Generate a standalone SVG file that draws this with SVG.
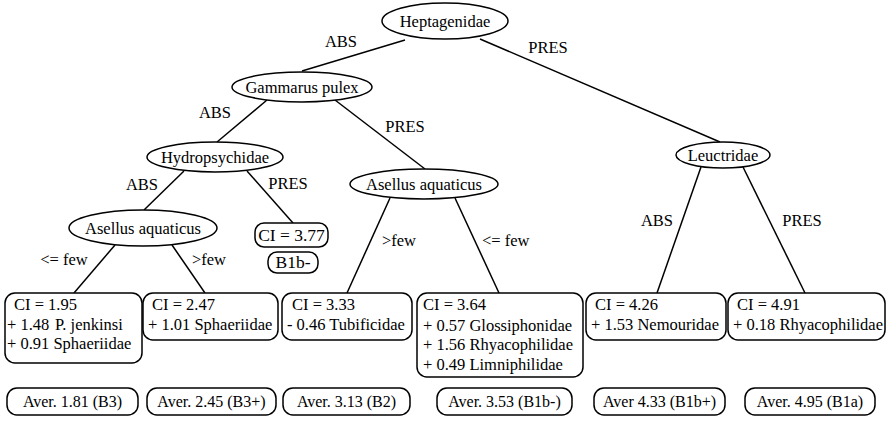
<svg xmlns="http://www.w3.org/2000/svg" width="887" height="422" viewBox="0 0 887 422" font-family="'Liberation Serif', 'Times New Roman', 'DejaVu Serif', serif">
<style>
text{font-family:'Liberation Serif','Times New Roman','DejaVu Serif',serif;font-size:16.5px;fill:#000}
.m{text-anchor:middle}
.s{font-size:16.5px}
.a{font-size:16px}
.b{font-size:17.5px}
.n{fill:#fff;stroke:#000;stroke-width:1.5}
line{stroke:#000;stroke-width:1.5}
</style>
<rect x="0" y="0" width="887" height="422" fill="#fff"/>
<g id="connectors">
<line x1="405" y1="40" x2="302" y2="71"/>
<line x1="480" y1="39" x2="720" y2="142"/>
<line x1="267" y1="100" x2="217" y2="142"/>
<line x1="335" y1="100" x2="425" y2="169"/>
<line x1="184" y1="171" x2="144" y2="210"/>
<line x1="247" y1="171" x2="293" y2="223"/>
<line x1="115" y1="245" x2="74" y2="293"/>
<line x1="172" y1="245" x2="205" y2="293"/>
<line x1="390" y1="198" x2="347" y2="293"/>
<line x1="455" y1="198" x2="499" y2="293"/>
<line x1="701" y1="167" x2="657" y2="293"/>
<line x1="743" y1="167" x2="805" y2="293"/>
<text x="341" y="47" class="m">ABS</text>
<text x="548" y="53" class="m">PRES</text>
<text x="215" y="118" class="m">ABS</text>
<text x="405" y="132" class="m">PRES</text>
<text x="142" y="190" class="m">ABS</text>
<text x="288" y="189" class="m">PRES</text>
<text x="64" y="265" class="m">&lt;= few</text>
<text x="192" y="265">&gt;few</text>
<text x="382" y="246">&gt;few</text>
<text x="482" y="246">&lt;= few</text>
<text x="657" y="226" class="m">ABS</text>
<text x="802" y="226" class="m">PRES</text>
</g>
<g id="heptagenidae"><ellipse class="n" cx="445" cy="21" rx="63" ry="18"/><text x="445" y="27" class="m">Heptagenidae</text></g>
<g id="gammarus"><ellipse class="n" cx="302" cy="87" rx="70" ry="15"/><text x="302" y="93" class="m">Gammarus pulex</text></g>
<g id="hydropsychidae"><ellipse class="n" cx="215" cy="157" rx="68" ry="15"/><text x="215" y="163" class="m">Hydropsychidae</text></g>
<g id="asellus1"><ellipse class="n" cx="143" cy="228" rx="74" ry="18"/><text x="143" y="234" class="m">Asellus aquaticus</text></g>
<g id="asellus2"><ellipse class="n" cx="424" cy="184" rx="74" ry="15"/><text x="424" y="190" class="m">Asellus aquaticus</text></g>
<g id="leuctridae"><ellipse class="n" cx="723" cy="155" rx="47" ry="13"/><text x="723" y="161" class="m">Leuctridae</text></g>
<g id="ci377"><rect class="n" x="255" y="223" width="73" height="24" rx="9"/><text x="291.5" y="241" class="m b">CI = 3.77</text></g>
<g id="b1b"><rect class="n" x="268" y="252" width="50" height="21" rx="9"/><text x="293" y="268" class="m b">B1b-</text></g>
<g id="leaf1"><rect class="n" x="5" y="293" width="137" height="70" rx="10"/>
<text x="14" y="310" class="s">CI = 1.95</text><text x="7" y="330" class="s">+ 1.48<tspan x="55">P. jenkinsi</tspan></text><text x="7" y="349" class="s">+ 0.91 Sphaeriidae</text></g>
<g id="leaf2"><rect class="n" x="143" y="293" width="135" height="47" rx="10"/>
<text x="152" y="310" class="s">CI = 2.47</text><text x="148" y="330" class="s">+ 1.01 Sphaeriidae</text></g>
<g id="leaf3"><rect class="n" x="282" y="293" width="130" height="47" rx="10"/>
<text x="292" y="310" class="s">CI = 3.33</text><text x="287" y="330" class="s">- 0.46 Tubificidae</text></g>
<g id="leaf4"><rect class="n" x="417" y="293" width="166" height="84" rx="10"/>
<text x="423" y="310" class="s">CI = 3.64</text><text x="423" y="331" class="s">+ 0.57 Glossiphonidae</text><text x="423" y="350" class="s">+ 1.56 Rhyacophilidae</text><text x="423" y="370" class="s">+ 0.49 Limniphilidae</text></g>
<g id="leaf5"><rect class="n" x="586" y="293" width="140" height="47" rx="10"/>
<text x="595" y="310" class="s">CI = 4.26</text><text x="591" y="330" class="s">+ 1.53 Nemouridae</text></g>
<g id="leaf6"><rect class="n" x="728" y="293" width="157" height="47" rx="10"/>
<text x="737" y="310" class="s">CI = 4.91</text><text x="733" y="330" class="s">+ 0.18 Rhyacophilidae</text></g>
<g id="aver1"><rect class="n" x="7" y="388" width="131" height="27" rx="10"/><text x="72.5" y="407" class="m a">Aver. 1.81 (B3)</text></g>
<g id="aver2"><rect class="n" x="147" y="388" width="129" height="27" rx="10"/><text x="211.5" y="407" class="m a">Aver. 2.45 (B3+)</text></g>
<g id="aver3"><rect class="n" x="283" y="388" width="127" height="27" rx="10"/><text x="346.5" y="407" class="m a">Aver. 3.13 (B2)</text></g>
<g id="aver4"><rect class="n" x="437" y="388" width="135" height="27" rx="10"/><text x="504.5" y="407" class="m a">Aver. 3.53 (B1b-)</text></g>
<g id="aver5"><rect class="n" x="594" y="388" width="131" height="27" rx="10"/><text x="659.5" y="407" class="m a">Aver 4.33 (B1b+)</text></g>
<g id="aver6"><rect class="n" x="745" y="388" width="130" height="27" rx="10"/><text x="810" y="407" class="m a">Aver. 4.95 (B1a)</text></g>
</svg>
